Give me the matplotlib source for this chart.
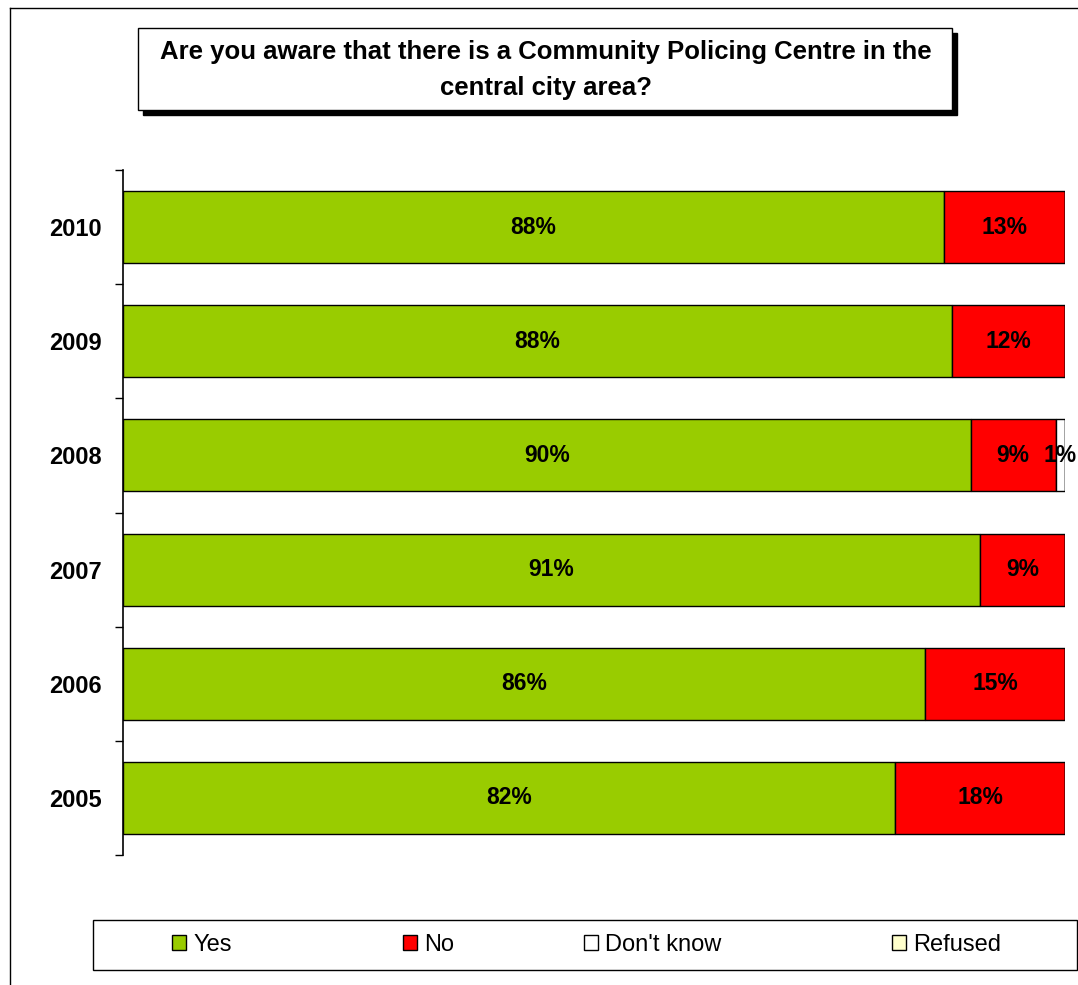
import numpy as np
import matplotlib.pyplot as plt
from matplotlib.patches import Rectangle, Patch
from matplotlib.lines import Line2D

plt.rcParams['font.family'] = ['Liberation Sans', 'DejaVu Sans']

# survey answers per year (percent as shown on the chart)
years = ['2005', '2006', '2007', '2008', '2009', '2010']
yes = [82, 86, 91, 90, 88, 88]
no = [18, 15, 9, 9, 12, 13]
dont_know = [0, 0, 0, 1, 0, 0]
refused = [0, 0, 0, 0, 0, 0]

series = [('Yes', yes, '#99CC00'), ('No', no, '#FF0000'),
          ("Don't know", dont_know, '#FFFFFF'), ('Refused', refused, '#FFFFCC')]

W, H = 1078, 985
fig = plt.figure(figsize=(W / 100, H / 100), dpi=100)

def fx(px):
    return px / W

def fy(py):
    return 1 - py / H

# outer frame (left and top edges only visible)
fig.add_artist(Line2D([fx(10), fx(10)], [fy(8), 0], color='black', lw=1, transform=fig.transFigure))
fig.add_artist(Line2D([fx(10), 1], [fy(8), fy(8)], color='black', lw=1, transform=fig.transFigure))

ax = fig.add_axes([fx(123), fy(855), fx(1065) - fx(123), fy(170) - fy(855)])

# 100% stacked: normalise each year to its total
totals = np.sum([s[1] for s in series], axis=0)
y = np.arange(len(years))
left = np.zeros(len(years))
for name, vals, col in series:
    frac = np.array(vals) / totals
    ax.barh(y, frac, left=left, height=0.63, color=col, edgecolor='black', linewidth=1)
    for i in range(len(years)):
        if vals[i] > 0:
            ax.text(left[i] + frac[i] / 2, y[i], f'{vals[i]}%', ha='center', va='center',
                    fontsize=16.5, fontweight='bold')
    left += frac

ax.set_xlim(0, 1)
ax.set_ylim(-0.5, len(years) - 0.5)
ax.set_xticks([])
ax.set_yticks(np.arange(-0.5, len(years), 1))
ax.set_yticklabels([])
ax.set_yticks(y, minor=True)
ax.set_yticklabels(years, minor=True, fontsize=17, fontweight='bold')
ax.tick_params(axis='y', which='major', length=6, width=1, direction='out')
ax.tick_params(axis='y', which='minor', length=0, pad=15)
for s in ['top', 'right', 'bottom']:
    ax.spines[s].set_visible(False)
ax.spines['left'].set_linewidth(1.2)

# title box with shadow
fig.add_artist(Rectangle((fx(143), fy(115)), fx(952) - fx(138), fy(28) - fy(110),
                         transform=fig.transFigure, facecolor='black', edgecolor='black'))
fig.add_artist(Rectangle((fx(138), fy(110)), fx(952) - fx(138), fy(28) - fy(110),
                         transform=fig.transFigure, facecolor='white', edgecolor='black', lw=1))
fig.text(fx(546), fy(70), 'Are you aware that there is a Community Policing Centre in the\ncentral city area?',
         ha='center', va='center', fontsize=18.5, fontweight='bold', linespacing=1.65)

# legend box
fig.add_artist(Rectangle((fx(93), fy(970)), fx(1077) - fx(93), fy(920) - fy(970),
                         transform=fig.transFigure, facecolor='white', edgecolor='black', lw=1))
# one legend entry per slot, placed like the original
legend_x = [172, 403, 584, 892]
for (name, vals, col), lx in zip(series, legend_x):
    h = Patch(facecolor=col, edgecolor='black', label=name)
    fig.legend(handles=[h], loc='center left', bbox_to_anchor=(fx(lx), fy(945)),
               frameon=False, fontsize=17, handlelength=0.6, handleheight=0.6,
               handletextpad=0.3, borderpad=0, borderaxespad=0)

plt.savefig('out.png', dpi=100)
